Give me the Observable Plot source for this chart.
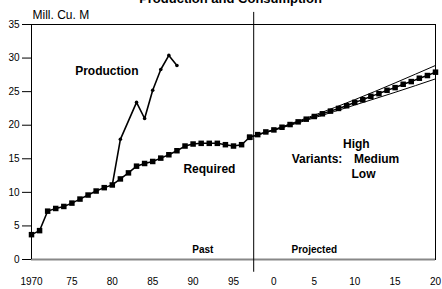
<!DOCTYPE html>
<html><head><meta charset="utf-8">
<script src="https://cdn.jsdelivr.net/npm/d3@7"></script>
<script src="https://cdn.jsdelivr.net/npm/@observablehq/plot@0.6"></script>
<style>body{margin:0;background:#fff;}</style>
</head><body><div id="chart"></div>
<script>
const title = "Production and Consumption";
const yUnit = "Mill. Cu. M";
const reqYears = [1970,1971,1972,1973,1974,1975,1976,1977,1978,1979,1980,1981,1982,1983,1984,1985,1986,1987,1988,1989,1990,1991,1992,1993,1994,1995,1996,1997];
const reqValues = [3.7,4.3,7.2,7.6,7.9,8.4,9.0,9.6,10.2,10.7,11.1,12.0,12.9,13.9,14.3,14.6,15.1,15.6,16.2,16.9,17.2,17.3,17.3,17.3,17.1,16.9,17.1,18.2];
const prodYears = [1980,1981,1983,1984,1985,1986,1987,1988];
const prodValues = [11.1,17.9,23.4,21.0,25.2,28.3,30.4,28.9];
const medYears = [1997,1998,1999,2000,2001,2002,2003,2004,2005,2006,2007,2008,2009,2010,2011,2012,2013,2014,2015,2016,2017,2018,2019,2020];
const medValues = [18.2,18.6,19.0,19.3,19.7,20.1,20.5,20.9,21.3,21.7,22.1,22.5,22.9,23.4,23.8,24.3,24.7,25.2,25.6,26.1,26.5,27.0,27.4,27.9];
const varYears = [1997,2000,2005,2010,2015,2020];
const highValues = [18.2,19.35,21.5,23.8,26.3,28.9];
const lowValues = [18.2,19.25,21.1,23.0,24.9,26.9];
const xTicks = [1970,1975,1980,1985,1990,1995,2000,2005,2010,2015,2020];
const xTickLabels = ["1970","75","80","85","90","95","0","5","10","15","20"];
const yTicks = [0,5,10,15,20,25,30,35];
const splitYear = 1997.5;

const req = reqYears.map((x,i)=>({x, y:reqValues[i]}));
const prod = prodYears.map((x,i)=>({x, y:prodValues[i]}));
const med = medYears.map((x,i)=>({x, y:medValues[i]}));
const high = varYears.map((x,i)=>({x, y:highValues[i]}));
const low = varYears.map((x,i)=>({x, y:lowValues[i]}));
const xLabel = new Map(xTicks.map((t,i)=>[t, xTickLabels[i]]));
const F = "Liberation Sans, Arial, sans-serif";

const chart = Plot.plot({
  width: 442, height: 289,
  marginLeft: 31, marginRight: 7, marginTop: 24, marginBottom: 30,
  style: {fontFamily: F, color: "black", background: "white", overflow: "visible"},
  x: {domain: [1970, 2020]},
  y: {domain: [0, 35]},
  marks: [
    Plot.frame({stroke: "black"}),
    Plot.ruleY([0], {stroke: "#888", strokeWidth: 2}),
    Plot.ruleX([1970], {stroke: "black"}),
    Plot.axisY({ticks: yTicks, tickSize: 9, tickPadding: 3, fontSize: 10, label: null}),
    Plot.axisX({ticks: xTicks, tickFormat: d => xLabel.get(d), tickSize: 0, tickPadding: 18, fontSize: 10, label: null}),
    Plot.ruleX([splitYear], {y1: -1.9, y2: 36.8, stroke: "black"}),
    Plot.line(high, {x: "x", y: "y", stroke: "black", strokeWidth: 1, curve: "natural"}),
    Plot.line(low, {x: "x", y: "y", stroke: "black", strokeWidth: 1, curve: "natural"}),
    Plot.line(req, {x: "x", y: "y", stroke: "black", strokeWidth: 1.5}),
    Plot.line(med, {x: "x", y: "y", stroke: "black", strokeWidth: 1.5}),
    Plot.line(prod, {x: "x", y: "y", stroke: "black", strokeWidth: 1.6}),
    Plot.dot(prod, {x: "x", y: "y", r: 1.8, fill: "black"}),
    Plot.dot(req, {x: "x", y: "y", symbol: "square", r: 3.1, fill: "black"}),
    Plot.dot(med, {x: "x", y: "y", symbol: "square", r: 3.1, fill: "black"}),
    Plot.text([title], {frameAnchor: "top", dx: -3, dy: -26, lineAnchor: "middle", fontSize: 13, fontWeight: "bold"}),
    Plot.text([yUnit], {frameAnchor: "top-left", dx: 1, dy: -9.3, lineAnchor: "middle", textAnchor: "start", fontSize: 12}),
    Plot.text(["Production"], {x: 1975.4, y: 28.0, textAnchor: "start", fontSize: 12, fontWeight: "bold"}),
    Plot.text(["Required"], {x: 1988.8, y: 13.4, textAnchor: "start", fontSize: 12, fontWeight: "bold"}),
    Plot.text(["High"], {x: 2008.55, y: 17.25, textAnchor: "start", fontSize: 12, fontWeight: "bold"}),
    Plot.text(["Variants:"], {x: 2002.2, y: 15.0, textAnchor: "start", fontSize: 12, fontWeight: "bold"}),
    Plot.text(["Medium"], {x: 2009.9, y: 15.0, textAnchor: "start", fontSize: 12, fontWeight: "bold"}),
    Plot.text(["Low"], {x: 2009.6, y: 12.75, textAnchor: "start", fontSize: 12, fontWeight: "bold"}),
    Plot.text(["Past"], {x: 1991.2, y: 1.5, fontSize: 10, fontWeight: "bold"}),
    Plot.text(["Projected"], {x: 2005.0, y: 1.5, fontSize: 10, fontWeight: "bold"})
  ]
});
document.getElementById("chart").append(chart);
</script>
</body></html>
